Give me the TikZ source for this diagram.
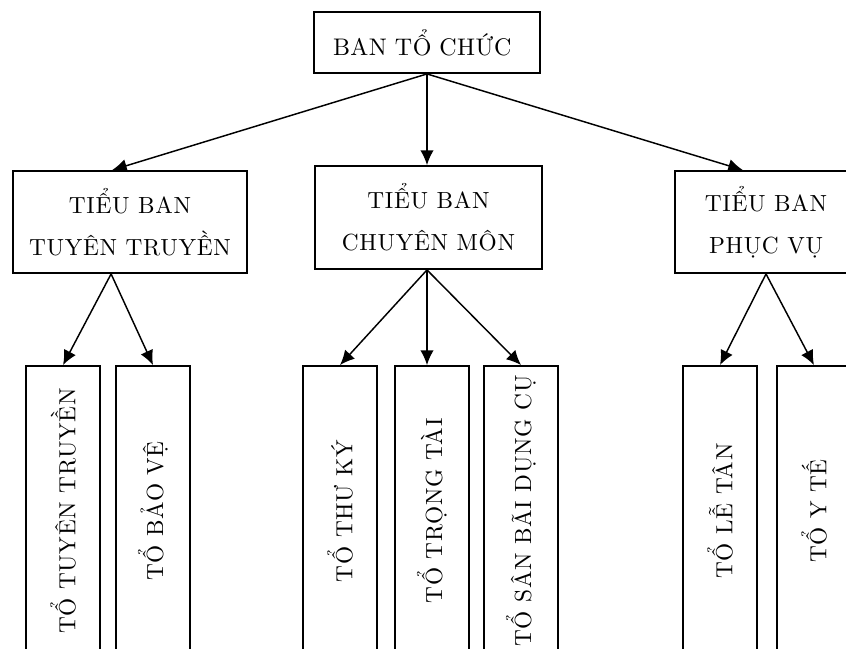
\documentclass[tikz,border=0pt]{standalone}
\usepackage{fontspec}
\setmainfont{lmroman10-regular}[Extension=.otf, LetterSpace=3]
\newfontfamily\banfont{lmroman10-regular}[Extension=.otf, LetterSpace=2]
\usetikzlibrary{arrows.meta}

\begin{document}
\begin{tikzpicture}[
        x=0.75pt, y=-0.75pt, % Bildpunkte, y nach unten
        line width=1.1pt,
        font=\fontsize{17.5}{31.5}\selectfont,
        banbox/.style={draw, line width=1.4pt, inner sep=0pt, align=center},
        tobox/.style={banbox, rotate=90, minimum width=217.5pt, minimum height=55.5pt},
        >={Latex[length=11pt,width=10pt]} % Voreinstellung für Pfeilspitzen
        ]
    \useasboundingbox (0,0) rectangle (846,649);

    % Ban to chuc
    \node (btc) [banbox, minimum height=45.75pt, text width=141pt, inner xsep=14.25pt,
                 align=left, font=\banfont\fontsize{18}{20}\selectfont] at (427,42.5) {BAN TỔ CHỨC};

    % Tieu ban
    \node (tt) [banbox, minimum width=175.5pt, minimum height=76.5pt] at (130,222)
          {TIỂU BAN\\TUYÊN TRUYỀN};
    \node (cm) [banbox, minimum width=170.25pt, minimum height=77.25pt] at (428.5,217.5)
          {TIỂU BAN\\CHUYÊN MÔN};
    \node (pv) [banbox, minimum width=136.5pt, minimum height=76.5pt] at (766,222)
          {TIỂU BAN\\PHỤC VỤ};

    % To
    \node (t1) [tobox] at (63,511)  {TỔ TUYÊN TRUYỀN};
    \node (t2) [tobox] at (153,511) {TỔ BẢO VỆ};
    \node (t3) [tobox] at (340,511) {TỔ THƯ KÝ};
    \node (t4) [tobox] at (432,511) {TỔ TRỌNG TÀI};
    \node (t5) [tobox] at (521,511) {TỔ SÂN BÃI DỤNG CỤ};
    \node (t6) [tobox] at (720,511) {TỔ LỄ TÂN};
    \node (t7) [tobox] at (814,511) {TỔ Y TẾ};

    % Pfeile
    \draw [->] (btc.south) -- (tt.109);
    \draw [->] (btc.south) -- (btc.south |- cm.north);
    \draw [->] (btc.south) -- (pv.114);

    \draw [->] (tt.250) -- (t1.east);
    \draw [->] (tt.250) -- (t2.east);
    \draw [->] (btc.south |- cm.south) -- (t3.east);
    \draw [->] (btc.south |- cm.south) -- (btc.south |- t4.east);
    \draw [->] (btc.south |- cm.south) -- (t5.east);
    \draw [->] (pv.south) -- (t6.east);
    \draw [->] (pv.south) -- (t7.east);

\end{tikzpicture}
\end{document}
